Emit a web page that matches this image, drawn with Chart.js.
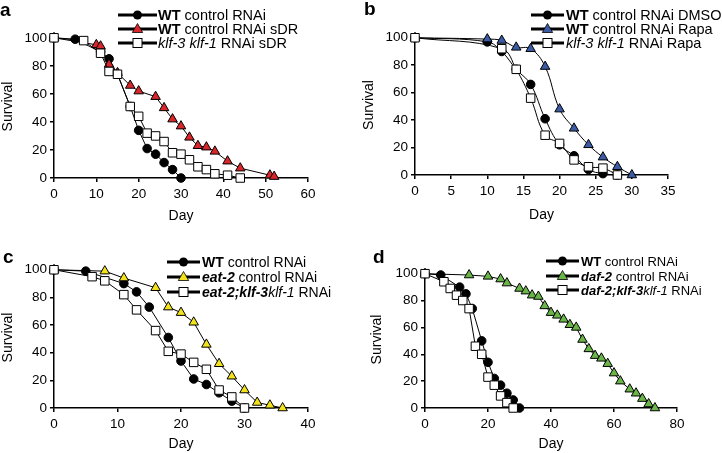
<!DOCTYPE html>
<html>
<head>
<meta charset="utf-8">
<script src="https://cdn.jsdelivr.net/npm/chart.js@4.4.1/dist/chart.umd.min.js"></script>
<style>
  body { margin: 0; background: #fff; font-family: 'Liberation Sans', Arial, sans-serif; }
  #fig { position: relative; width: 722px; height: 453px; overflow: hidden; }
  .panel { position: absolute; }
  .panel canvas { position: absolute; left: 0; top: 0; }
  .tag { position: absolute; font-weight: bold; font-size: 19px; line-height: 19px; }
  .leg { position: absolute; display: flex; align-items: center; height: 14px; white-space: nowrap; color: #000; }
  .leg svg { flex: none; }
</style>
</head>
<body>
<div id="fig">
  <div class="panel" id="pa" style="left:0;top:0;width:361px;height:226px"><canvas id="ca" width="361" height="226"></canvas><div class="tag" style="left:0;top:0">a</div></div>
  <div class="panel" id="pb" style="left:361px;top:0;width:361px;height:226px"><canvas id="cb" width="361" height="226"></canvas><div class="tag" style="left:3px;top:-1px">b</div></div>
  <div class="panel" id="pc" style="left:0;top:226px;width:361px;height:227px"><canvas id="cc" width="361" height="227"></canvas><div class="tag" style="left:3px;top:21px">c</div></div>
  <div class="panel" id="pd" style="left:361px;top:226px;width:361px;height:227px"><canvas id="cd" width="361" height="227"></canvas><div class="tag" style="left:12px;top:21px">d</div></div>
</div>
<script>
// ---- a: dietary restriction (sDR)
const aDaysWT = [0, 5, 11, 13, 15, 18, 20, 22, 24, 26, 28, 30];
const aSurvWT = [100, 99, 90, 85, 74, 51, 34, 21, 17, 11, 6, 0];
const aDaysSDR = [0, 10, 11, 13, 15, 18, 20, 24, 26, 28, 30, 32, 34, 36, 38, 41, 44, 51, 52];
const aSurvSDR = [100, 95, 94, 81, 75, 66, 62, 58, 50, 42, 37, 29, 23, 22, 19, 12, 7, 2, 1];
const aDaysKlf = [0, 7, 11, 13, 15, 18, 20, 22, 24, 26, 28, 30, 32, 34, 36, 38, 41, 44];
const aSurvKlf = [100, 98, 89, 76, 74, 51, 44, 32, 30, 26, 18, 17, 13, 8, 6, 3, 2, 0];
const aLabels = ['<b>WT</b> control RNAi', '<b>WT</b> control RNAi sDR', '<i>klf-3 klf-1</i> RNAi sDR'];

// ---- b: rapamycin
const bDaysDMSO = [0, 10, 12, 14, 16, 18, 20, 22, 24, 26, 28];
const bSurvDMSO = [100, 97, 90, 77, 66, 41, 22, 14, 4, 1, 0];
const bDaysRapa = [0, 10, 12, 14, 16, 18, 20, 22, 24, 26, 28, 30];
const bSurvRapa = [100, 99, 98, 93, 92, 79, 48, 34, 22, 13, 6, 0];
const bDaysKlf = [0, 12, 14, 16, 18, 20, 22, 24, 26, 28];
const bSurvKlf = [100, 92, 77, 56, 29, 23, 11, 6, 5, 0];
const bLabels = ['<b>WT</b> control RNAi DMSO', '<b>WT</b> control RNAi Rapa', '<i>klf-3 klf-1</i> RNAi Rapa'];

// ---- c: eat-2
const cDaysWT = [0, 5, 11, 13, 15, 18, 20, 22, 24, 26, 28, 30];
const cSurvWT = [100, 99, 90, 84, 73, 51, 34, 21, 17, 11, 5, 0];
const cDaysEat = [0, 8, 11, 16, 18, 20, 22, 24, 26, 28, 30, 32, 34, 36];
const cSurvEat = [100, 99, 94, 87, 73, 69, 62, 46, 32, 23, 13, 4, 2, 0];
const cDaysKlf = [0, 6, 8, 11, 13, 16, 18, 20, 22, 24, 26, 28, 30];
const cSurvKlf = [100, 95, 92, 82, 71, 56, 41, 39, 33, 28, 13, 8, 0];
const cLabels = ['<b>WT</b> control RNAi', '<b><i>eat-2</i></b> control RNAi', '<b><i>eat-2;klf-3</i></b><i>klf-1</i> RNAi'];

// ---- d: daf-2
const dDaysWT = [0, 5, 11, 13, 15, 18, 20, 22, 24, 26, 28, 30];
const dSurvWT = [100, 99, 90, 85, 74, 50, 34, 22, 17, 11, 6, 0];
const dDaysDaf = [0, 14, 20, 24, 26, 30, 32, 34, 36, 38, 40, 42, 44, 46, 48, 50, 52, 54, 56, 58, 60, 62, 65, 67, 69, 71, 73];
const dSurvDaf = [100, 99, 98, 96, 93, 89, 87, 84, 83, 76, 71, 69, 66, 62, 60, 51, 44, 39, 37, 33, 26, 20, 14, 11, 7, 3, 0];
const dDaysKlf = [0, 6, 8, 10, 12, 14, 16, 18, 20, 22, 24, 26, 28];
const dSurvKlf = [100, 94, 89, 84, 80, 74, 46, 40, 23, 17, 9, 4, 0];
const dLabels = ['<b>WT</b> control RNAi', '<b><i>daf-2</i></b> control RNAi', '<b><i>daf-2;klf-3</i></b><i>klf-1</i> RNAi'];

const FONT = "'Liberation Sans', Arial, sans-serif";
const RED = '#d9262a', BLUE = '#3b5ba5', YELLOW = '#f2e21c', GREEN = '#6ab547';

const pts = (days, surv) => days.map((d, i) => ({ x: d, y: surv[i] }));

// marker styles, order: squares on top, circles at the bottom
function series(days, surv, kind, color, tension) {
    const s = {
        data: pts(days, surv),
        borderColor: '#000', borderWidth: 1,
        pointBorderColor: '#000', pointBorderWidth: 1,
        tension: tension || 0, clip: false
    };
    if (kind === 'circle') Object.assign(s, { pointStyle: 'circle', pointRadius: 4.3, pointBackgroundColor: '#000', order: 2 });
    else if (kind === 'square') Object.assign(s, { pointStyle: 'rect', pointRadius: 6, pointBackgroundColor: '#fff', order: 0 });
    else Object.assign(s, { pointStyle: 'triangle', pointRadius: 5.5, pointBackgroundColor: color, order: 1 });
    return s;
}

function legendIcon(w, kind, color) {
    const cx = w / 2;
    let m;
    if (kind === 'circle') m = `<circle cx="${cx}" cy="7" r="4.5" fill="#000"/>`;
    else if (kind === 'square') m = `<rect x="${cx - 4.5}" y="2.5" width="9" height="9" fill="#fff" stroke="#000" stroke-width="1"/>`;
    else m = `<polygon points="${cx},1.5 ${cx + 5.2},10.5 ${cx - 5.2},10.5" fill="${color}" stroke="#000" stroke-width="0.8"/>`;
    return `<svg width="${w}" height="14"><line x1="0" y1="7" x2="${w}" y2="7" stroke="#000" stroke-width="3"/>${m}</svg>`;
}

function makeLegend(panelId, cfg) {
    const host = document.getElementById(panelId);
    cfg.labels.forEach((txt, i) => {
        const row = document.createElement('div');
        row.className = 'leg';
        row.style.left = cfg.legX + 'px';
        row.style.top = (cfg.legY[i] - 7) + 'px';
        row.style.fontSize = cfg.legFont + 'px';
        const w = cfg.legLine;
        row.innerHTML = legendIcon(w, cfg.kinds[i], cfg.colors[i]) +
            `<span style="margin-left:${cfg.legGap}px">${txt}</span>`;
        host.appendChild(row);
    });
}

function makeChart(canvasId, cfg) {
    const tickFont = { family: FONT, size: 13.5 };
    const titleFont = { family: FONT, size: 14 };
    const grid = { drawOnChartArea: false, color: '#000', lineWidth: 1.5, tickLength: 4 };
    const border = { color: '#000', width: 1.5 };
    new Chart(document.getElementById(canvasId), {
        type: 'line',
        data: { datasets: cfg.datasets },
        options: {
            responsive: false,
            animation: false,
            events: [],
            layout: { padding: cfg.pad },
            plugins: { legend: { display: false }, tooltip: { enabled: false } },
            scales: {
                x: {
                    type: 'linear', min: 0, max: cfg.xMax,
                    ticks: { stepSize: cfg.xStep, font: tickFont, color: '#000', padding: 4, maxRotation: 0, autoSkip: false },
                    grid: grid, border: border,
                    title: { display: true, text: 'Day', font: titleFont, color: '#000', padding: { top: 0, bottom: cfg.dayPad } },
                    afterFit: s => { s.height = cfg.xH; }
                },
                y: {
                    min: 0, max: 102,
                    ticks: { stepSize: 20, includeBounds: false, font: tickFont, color: '#000', padding: 3 },
                    grid: grid, border: border,
                    title: { display: true, text: 'Survival', font: titleFont, color: '#000', padding: 0 },
                    afterFit: s => { s.width = cfg.yW; }
                }
            }
        }
    });
}

// Panel a
makeChart('ca', {
    datasets: [
        series(aDaysWT, aSurvWT, 'circle'),
        series(aDaysSDR, aSurvSDR, 'tri', RED),
        series(aDaysKlf, aSurvKlf, 'square')
    ],
    xMax: 60, xStep: 10,
    pad: { left: 0, top: 35, right: 53, bottom: 0 }, yW: 54, xH: 48, dayPad: 1.6
});
makeLegend('pa', { labels: aLabels, kinds: ['circle', 'tri', 'square'], colors: [null, RED, null],
    legX: 118, legY: [15, 29, 43], legLine: 39, legGap: 1, legFont: 14.5 });

// Panel b (smoothed lines)
makeChart('cb', {
    datasets: [
        series(bDaysDMSO, bSurvDMSO, 'circle', null, 0.4),
        series(bDaysRapa, bSurvRapa, 'tri', BLUE, 0.4),
        series(bDaysKlf, bSurvKlf, 'square', null, 0.4)
    ],
    xMax: 35, xStep: 5,
    pad: { left: 0, top: 35, right: 54, bottom: 0 }, yW: 54, xH: 51, dayPad: 2.6
});
makeLegend('pb', { labels: bLabels, kinds: ['circle', 'tri', 'square'], colors: [null, BLUE, null],
    legX: 170, legY: [15, 29, 43], legLine: 33, legGap: 2, legFont: 14.5 });

// Panel c
makeChart('cc', {
    datasets: [
        series(cDaysWT, cSurvWT, 'circle'),
        series(cDaysEat, cSurvEat, 'tri', YELLOW),
        series(cDaysKlf, cSurvKlf, 'square')
    ],
    xMax: 40, xStep: 10,
    pad: { left: 0, top: 41, right: 53, bottom: 0 }, yW: 54, xH: 45, dayPad: 0
});
makeLegend('pc', { labels: cLabels, kinds: ['circle', 'tri', 'square'], colors: [null, YELLOW, null],
    legX: 167, legY: [36, 51, 66], legLine: 33, legGap: 2, legFont: 14 });

// Panel d
makeChart('cd', {
    datasets: [
        series(dDaysWT, dSurvWT, 'circle'),
        series(dDaysDaf, dSurvDaf, 'tri', GREEN),
        series(dDaysKlf, dSurvKlf, 'square')
    ],
    xMax: 80, xStep: 20,
    pad: { left: 8, top: 45, right: 45, bottom: 0 }, yW: 56, xH: 45, dayPad: 0.6
});
makeLegend('pd', { labels: dLabels, kinds: ['circle', 'tri', 'square'], colors: [null, GREEN, null],
    legX: 185, legY: [35, 50, 64], legLine: 33, legGap: 2, legFont: 13 });
</script>
</body>
</html>
